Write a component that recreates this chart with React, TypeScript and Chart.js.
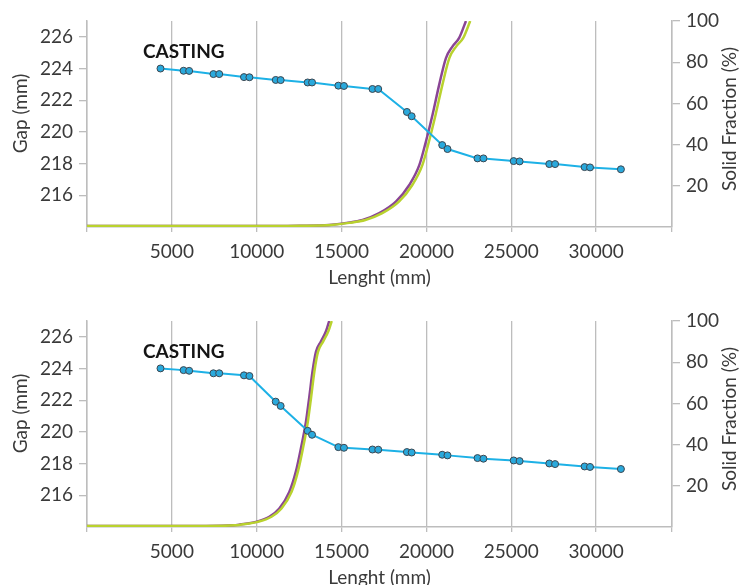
import React, { useEffect, useRef } from 'react';
import { Chart, registerables } from 'chart.js';

Chart.register(...registerables);

// ---- data ----
const xTickValues = [0, 5000, 10000, 15000, 20000, 25000, 30000];
const gapTickValues = [216, 218, 220, 222, 224, 226];
const fractionTickValues = [20, 40, 60, 80, 100];
const xMax = 34470;

const lengthPoints = [4330, 5690, 6020, 7450, 7790, 9250, 9570, 11120, 11410, 13000, 13260, 14810, 15140, 16820, 17160, 18850, 19130, 20930, 21240, 23010, 23360, 25140, 25490, 27240, 27580, 29320, 29640, 31460];

const gapTop = [224.0, 223.86, 223.85, 223.65, 223.65, 223.46, 223.45, 223.28, 223.27, 223.12, 223.12, 222.92, 222.9, 222.71, 222.71, 221.26, 220.99, 219.17, 218.92, 218.33, 218.33, 218.16, 218.14, 217.97, 217.97, 217.78, 217.76, 217.64];

const gapBottom = [224.01, 223.9, 223.86, 223.7, 223.7, 223.57, 223.53, 221.91, 221.64, 220.07, 219.82, 219.04, 219.0, 218.89, 218.88, 218.73, 218.7, 218.56, 218.52, 218.35, 218.31, 218.2, 218.16, 218.01, 217.97, 217.82, 217.79, 217.66];

const fracTopPurpleX = [0, 4000, 8000, 11000, 12500, 14270, 15300, 16240, 17220, 18200, 18990, 19580, 19970, 20360, 20750, 21150, 21540, 21930, 22330];
const fracTopPurpleY = [0.5, 0.5, 0.5, 0.5, 0.6, 1.0, 2.0, 3.4, 6.7, 12.3, 20.4, 30.0, 41.5, 54.5, 69.0, 82.0, 87.7, 91.8, 100];
const fracTopGreenX = [0, 4000, 8000, 11000, 12600, 14400, 15450, 16400, 17400, 18380, 19170, 19760, 20150, 20540, 20940, 21350, 21760, 22170, 22580];
const fracTopGreenY = [0.5, 0.5, 0.5, 0.5, 0.6, 1.0, 2.0, 3.4, 6.7, 12.3, 20.4, 30.0, 41.5, 54.5, 69.0, 82.0, 87.7, 91.8, 100];

const fracBottomPurpleX = [0, 4000, 7000, 8600, 9000, 9950, 10740, 11330, 11920, 12310, 12600, 12900, 13090, 13290, 13490, 13780, 14080, 14270];
const fracBottomPurpleY = [0.5, 0.5, 0.5, 0.8, 1.2, 2.5, 5.0, 9.0, 17.0, 27.0, 38.0, 51.0, 62.6, 75.6, 85.0, 90.0, 95.0, 100];
const fracBottomGreenX = [0, 4000, 7000, 8700, 9100, 10070, 10870, 11460, 12050, 12430, 12720, 13010, 13200, 13400, 13610, 13910, 14220, 14420];
const fracBottomGreenY = [0.5, 0.5, 0.5, 0.8, 1.2, 2.5, 5.0, 9.0, 17.0, 27.0, 38.0, 51.0, 62.6, 75.6, 85.0, 90.0, 95.0, 100];

const annotationText = 'CASTING';
const annotationX = 5700;
const annotationGap = 225.05;

const xTitle = 'Lenght (mm)';
const yTitle = 'Gap (mm)';
const y1Title = 'Solid Fraction (%)';

// ---- styles ----
const FONT = 'Lato, "DejaVu Sans", sans-serif';
const TEXT = '#3a3a3a';
const GRID = '#bdbdbd';
const BLUE = '#1db1e6';
const PURPLE = '#8a4595';
const GREEN = '#b9d22e';

function zip(xs: number[], ys: number[]) {
  return xs.map((x, i) => ({ x, y: ys[i] }));
}

const textPlugin = {
  id: 'customText',
  afterDatasetsDraw(chart: any) {
    const { ctx, scales } = chart;
    ctx.save();
    // annotation
    ctx.fillStyle = '#141414';
    ctx.font = `bold 19px ${FONT}`;
    ctx.textAlign = 'center';
    ctx.textBaseline = 'middle';
    ctx.fillText(annotationText, scales.x.getPixelForValue(annotationX), scales.y.getPixelForValue(annotationGap));
    // y titles (both read bottom-to-top)
    ctx.fillStyle = TEXT;
    ctx.font = `19px ${FONT}`;
    ctx.save();
    ctx.translate(21, 113.5);
    ctx.rotate(-Math.PI / 2);
    ctx.fillText(yTitle, 0, 0);
    ctx.restore();
    ctx.save();
    ctx.translate(730, 119);
    ctx.rotate(-Math.PI / 2);
    ctx.fillText(y1Title, 0, 0);
    ctx.restore();
    ctx.restore();
  },
};

function makeConfig(gap: number[], px: number[], py: number[], gx: number[], gy: number[]): any {
  return {
    type: 'line',
    data: {
      datasets: [
        {
          label: 'Gap',
          data: zip(lengthPoints, gap),
          yAxisID: 'y',
          borderColor: BLUE,
          borderWidth: 2,
          pointRadius: 3.5,
          pointBackgroundColor: '#2aa9dc',
          pointBorderColor: '#3c4650',
          pointBorderWidth: 1,
          tension: 0,
        },
        {
          label: 'Solid fraction B',
          data: zip(gx, gy),
          yAxisID: 'y1',
          borderColor: GREEN,
          borderWidth: 2.5,
          pointRadius: 0,
          cubicInterpolationMode: 'monotone',
        },
        {
          label: 'Solid fraction A',
          data: zip(px, py),
          yAxisID: 'y1',
          borderColor: PURPLE,
          borderWidth: 2.5,
          pointRadius: 0,
          cubicInterpolationMode: 'monotone',
        },
      ],
    },
    options: {
      animation: false,
      responsive: false,
      devicePixelRatio: 1,
      parsing: true,
      layout: { padding: { top: 21, left: 0, right: 0, bottom: 0 } },
      plugins: { legend: { display: false }, tooltip: { enabled: false } },
      scales: {
        x: {
          type: 'linear',
          min: 0,
          max: xMax,
          afterBuildTicks: (s: any) => {
            s.ticks = [...xTickValues, xMax].map((v) => ({ value: v }));
          },
          afterFit: (s: any) => {
            s.height = 73;
          },
          ticks: {
            autoSkip: false,
            maxRotation: 0,
            padding: 8,
            color: TEXT,
            font: { family: FONT, size: 19 },
            callback: (v: any) => (xTickValues.includes(v) && v !== 0 ? String(v) : ''),
          },
          grid: { color: GRID, lineWidth: 1.3, tickLength: 5, drawTicks: true },
          border: { color: GRID, width: 1.5 },
          title: {
            display: true,
            text: xTitle,
            color: TEXT,
            font: { family: FONT, size: 19 },
            padding: { top: 0, bottom: 11 },
          },
        },
        y: {
          type: 'linear',
          position: 'left',
          min: 214,
          max: 227,
          afterBuildTicks: (s: any) => {
            s.ticks = gapTickValues.map((v) => ({ value: v }));
          },
          afterFit: (s: any) => {
            s.width = 87;
          },
          ticks: { padding: 6, color: TEXT, font: { family: FONT, size: 19 } },
          grid: { drawOnChartArea: false, color: GRID, lineWidth: 1.3, tickLength: 8 },
          border: { color: GRID, width: 1.5 },
        },
        y1: {
          type: 'linear',
          position: 'right',
          min: 0,
          max: 100,
          afterBuildTicks: (s: any) => {
            s.ticks = fractionTickValues.map((v) => ({ value: v }));
          },
          afterFit: (s: any) => {
            s.width = 68;
          },
          ticks: { padding: 6, color: TEXT, font: { family: FONT, size: 19 } },
          grid: { drawOnChartArea: false, color: GRID, lineWidth: 1.3, tickLength: 8 },
          border: { color: GRID, width: 1.5 },
        },
      },
    },
    plugins: [textPlugin],
  };
}

function GapChart(props: { gap: number[]; px: number[]; py: number[]; gx: number[]; gy: number[] }) {
  const ref = useRef<HTMLCanvasElement | null>(null);
  useEffect(() => {
    if (!ref.current) return;
    const chart = new Chart(ref.current, makeConfig(props.gap, props.px, props.py, props.gx, props.gy));
    return () => chart.destroy();
  }, []);
  return <canvas ref={ref} width={740} height={300} style={{ display: 'block', width: 740, height: 300 }} />;
}

export default function App() {
  return (
    <div
      style={{
        position: 'fixed',
        left: 0,
        top: 0,
        width: 740,
        height: 585,
        overflow: 'hidden',
        background: '#ffffff',
      }}
    >
      <GapChart gap={gapTop} px={fracTopPurpleX} py={fracTopPurpleY} gx={fracTopGreenX} gy={fracTopGreenY} />
      <GapChart gap={gapBottom} px={fracBottomPurpleX} py={fracBottomPurpleY} gx={fracBottomGreenX} gy={fracBottomGreenY} />
    </div>
  );
}
